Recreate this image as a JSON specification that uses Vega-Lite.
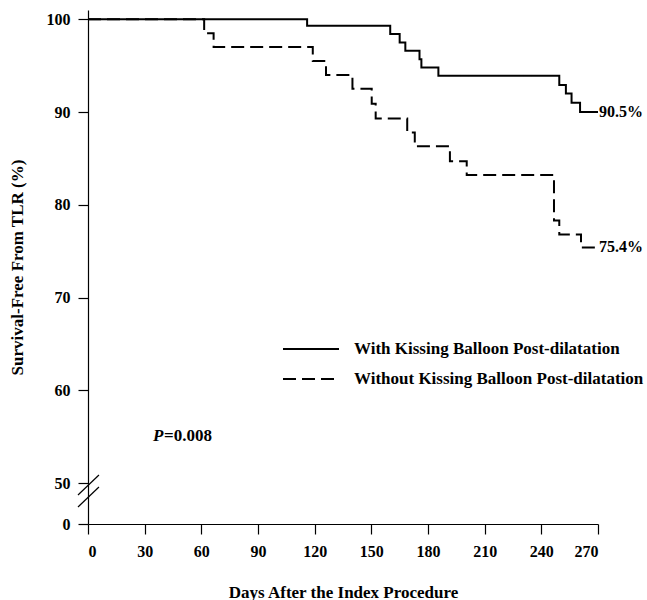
{
  "$schema": "https://vega.github.io/schema/vega-lite/v6.json",
  "width": 510,
  "height": 514,
  "autosize": {"type": "none"},
  "padding": {"left": 88, "top": 10, "right": 49, "bottom": 76},
  "background": "white",
  "config": {
    "view": {"stroke": null},
    "font": "Liberation Serif",
    "axis": {
      "grid": false,
      "domainColor": "black",
      "domainWidth": 1.2,
      "tickColor": "black",
      "tickWidth": 1.2,
      "tickSize": 10,
      "labelFont": "Liberation Serif",
      "labelFontWeight": "bold",
      "labelFontSize": 16,
      "labelColor": "black",
      "titleFont": "Liberation Serif",
      "titleFontWeight": "bold",
      "titleFontSize": 17,
      "titleColor": "black"
    }
  },
  "datasets": {
    "curves": [
      {"group": "With Kissing Balloon Post-dilatation", "day": 0, "surv": 100},
      {"group": "With Kissing Balloon Post-dilatation", "day": 116, "surv": 99.3},
      {"group": "With Kissing Balloon Post-dilatation", "day": 160, "surv": 98.4},
      {"group": "With Kissing Balloon Post-dilatation", "day": 165, "surv": 97.5},
      {"group": "With Kissing Balloon Post-dilatation", "day": 168, "surv": 96.6},
      {"group": "With Kissing Balloon Post-dilatation", "day": 175.5, "surv": 95.7},
      {"group": "With Kissing Balloon Post-dilatation", "day": 176.5, "surv": 94.8},
      {"group": "With Kissing Balloon Post-dilatation", "day": 185.5, "surv": 93.9},
      {"group": "With Kissing Balloon Post-dilatation", "day": 249.5, "surv": 92.9},
      {"group": "With Kissing Balloon Post-dilatation", "day": 253, "surv": 92.0},
      {"group": "With Kissing Balloon Post-dilatation", "day": 256, "surv": 91.0},
      {"group": "With Kissing Balloon Post-dilatation", "day": 260.5, "surv": 90.0},
      {"group": "With Kissing Balloon Post-dilatation", "day": 270, "surv": 90.0},
      {"group": "Without Kissing Balloon Post-dilatation", "day": 0, "surv": 100},
      {"group": "Without Kissing Balloon Post-dilatation", "day": 61.5, "surv": 98.5},
      {"group": "Without Kissing Balloon Post-dilatation", "day": 66.5, "surv": 97.0},
      {"group": "Without Kissing Balloon Post-dilatation", "day": 119, "surv": 95.5},
      {"group": "Without Kissing Balloon Post-dilatation", "day": 126, "surv": 94.0},
      {"group": "Without Kissing Balloon Post-dilatation", "day": 140, "surv": 92.5},
      {"group": "Without Kissing Balloon Post-dilatation", "day": 150.2, "surv": 90.9},
      {"group": "Without Kissing Balloon Post-dilatation", "day": 152.3, "surv": 89.3},
      {"group": "Without Kissing Balloon Post-dilatation", "day": 169, "surv": 87.8},
      {"group": "Without Kissing Balloon Post-dilatation", "day": 173, "surv": 86.3},
      {"group": "Without Kissing Balloon Post-dilatation", "day": 191.6, "surv": 84.7},
      {"group": "Without Kissing Balloon Post-dilatation", "day": 200.5, "surv": 83.2},
      {"group": "Without Kissing Balloon Post-dilatation", "day": 246.7, "surv": 78.3},
      {"group": "Without Kissing Balloon Post-dilatation", "day": 249.5, "surv": 76.8},
      {"group": "Without Kissing Balloon Post-dilatation", "day": 261, "surv": 75.4},
      {"group": "Without Kissing Balloon Post-dilatation", "day": 270, "surv": 75.4}
    ],
    "breaks": [
      {"day": -5.3, "surv": 35.4, "day2": 5.8, "surv2": 50.86},
      {"day": -5.3, "surv": 20.7, "day2": 5.8, "surv2": 45.1}
    ],
    "ends": [
      {"label": "90.5%", "day": 270, "surv": 90.0},
      {"label": "75.4%", "day": 270, "surv": 75.4}
    ],
    "pval": [{"label": "P", "day": 34.4, "surv": 55.1}],
    "pnum": [{"label": "=0.008", "day": 40.3, "surv": 55.1}]
  },
  "layer": [
    {
      "data": {"name": "curves"},
      "mark": {"type": "line", "interpolate": "step-after", "color": "black", "strokeWidth": 2},
      "encoding": {
        "x": {
          "field": "day", "type": "quantitative",
          "scale": {"domain": [0, 270], "nice": false, "zero": false},
          "axis": {"values": [0, 30, 60, 90, 120, 150, 180, 210, 240, 270], "title": "Days After the Index Procedure", "labelPadding": 9, "titlePadding": 25}
        },
        "y": {
          "field": "surv", "type": "quantitative",
          "scale": {"domain": [0, 50, 101], "range": [514, 473, 0], "nice": false, "zero": false},
          "axis": {"values": [0, 50, 60, 70, 80, 90, 100], "title": "Survival-Free From TLR (%)", "labelPadding": 8, "titlePadding": 20}
        },
        "strokeDash": {
          "field": "group", "type": "nominal",
          "scale": {"domain": ["With Kissing Balloon Post-dilatation", "Without Kissing Balloon Post-dilatation"], "range": [[1, 0], [13, 6]]},
          "legend": {
            "title": null, "orient": "none", "legendX": 208, "legendY": 324,
            "symbolType": "M-2,0H2", "symbolSize": 784, "symbolStrokeWidth": 2, "symbolStrokeColor": "black",
            "labelFont": "Liberation Serif", "labelFontWeight": "bold", "labelFontSize": 17, "labelColor": "black",
            "labelOffset": 28, "rowPadding": 7, "labelLimit": 0, "padding": 0
          }
        }
      }
    },
    {
      "data": {"name": "breaks"},
      "mark": {"type": "rule", "color": "black", "strokeWidth": 1.2, "clip": false},
      "encoding": {
        "x": {"field": "day", "type": "quantitative"},
        "x2": {"field": "day2"},
        "y": {"field": "surv", "type": "quantitative"},
        "y2": {"field": "surv2"}
      }
    },
    {
      "data": {"name": "ends"},
      "mark": {"type": "text", "align": "left", "baseline": "middle", "dx": 1, "font": "Liberation Serif", "fontWeight": "bold", "fontSize": 16, "color": "black"},
      "encoding": {
        "x": {"field": "day", "type": "quantitative"},
        "y": {"field": "surv", "type": "quantitative"},
        "text": {"field": "label"}
      }
    },
    {
      "data": {"name": "pval"},
      "mark": {"type": "text", "align": "left", "baseline": "middle", "font": "Liberation Serif", "fontWeight": "bold", "fontStyle": "italic", "fontSize": 17, "color": "black"},
      "encoding": {
        "x": {"field": "day", "type": "quantitative"},
        "y": {"field": "surv", "type": "quantitative"},
        "text": {"field": "label"}
      }
    },
    {
      "data": {"name": "pnum"},
      "mark": {"type": "text", "align": "left", "baseline": "middle", "font": "Liberation Serif", "fontWeight": "bold", "fontSize": 17, "color": "black"},
      "encoding": {
        "x": {"field": "day", "type": "quantitative"},
        "y": {"field": "surv", "type": "quantitative"},
        "text": {"field": "label"}
      }
    }
  ]
}
